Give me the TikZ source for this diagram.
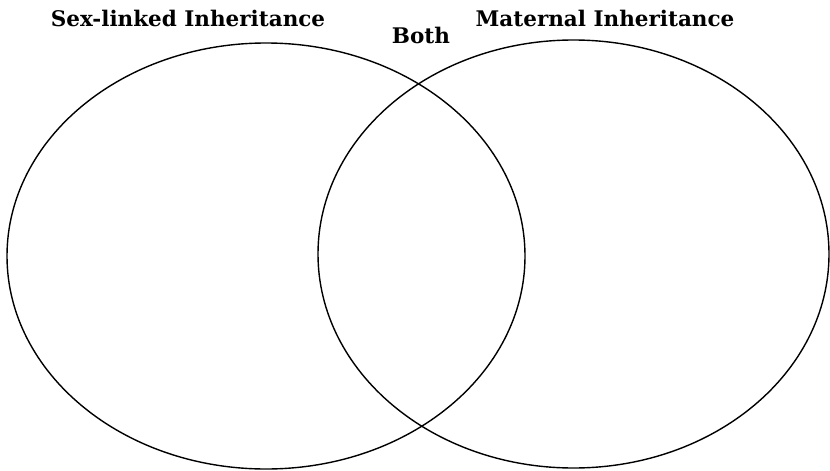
\documentclass[tikz,border=0pt]{standalone}
\usepackage{fontspec}
\usetikzlibrary{shapes.geometric}
\setmainfont{DejaVu Serif}
\tikzset{
  setline/.style={draw=black, line width=1.4pt, fill=none, ellipse, inner sep=0pt},
  title/.style={font=\fontsize{21.5}{25}\selectfont\bfseries, inner sep=0pt, anchor=base},
}
\begin{document}
\begin{tikzpicture}[x=1pt,y=-1pt]
\useasboundingbox (0,0) rectangle (830,471);
\node[setline, minimum width=518pt, minimum height=426pt] (sexset) at (266,256) {};
\node[setline, minimum width=511pt, minimum height=428pt] (matset) at (573.5,254) {};
\node[title] (sexlab) at (188,27) {Sex-linked Inheritance};
\node[title] (bothlab) at (421,43) {Both};
\node[title] (matlab) at (605,26) {Maternal Inheritance};
\end{tikzpicture}
\end{document}
